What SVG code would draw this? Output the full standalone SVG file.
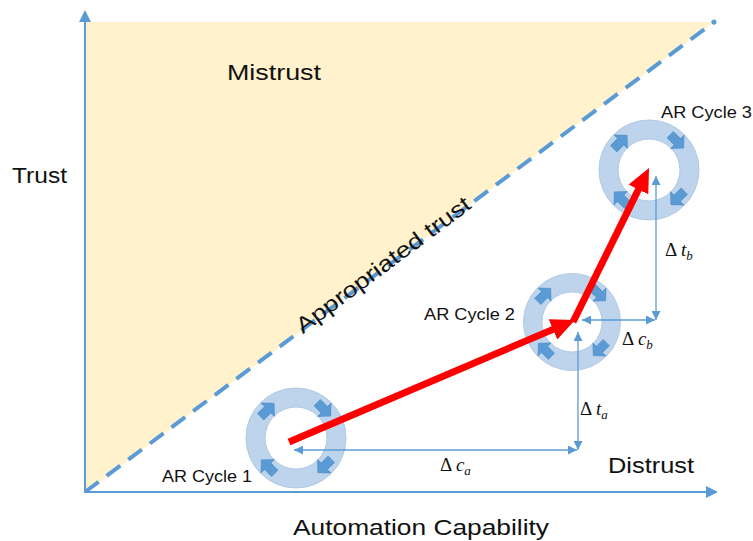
<svg xmlns="http://www.w3.org/2000/svg" width="753" height="541" viewBox="0 0 753 541">
  <defs>
    <style>
      .lbl { font-family: "Liberation Sans", Arial, sans-serif; fill: #111; }
      .big { font-size: 22px; }
      .cyc { font-size: 16px; }
      .math { font-family: "Liberation Serif", "DejaVu Serif", serif; font-size: 19px; fill: #111; }
      .it { font-style: italic; }
      .axis { stroke: #5b9bd5; stroke-width: 2; fill: none; }
      .dim { stroke: #5b9bd5; stroke-width: 1.3; fill: none; marker-start: url(#tip); marker-end: url(#tip); }
      .red { stroke: #ff0000; stroke-width: 7; fill: none; marker-end: url(#redHead); }
      .ring { fill: #b7d0ea; stroke: #a6c4e4; stroke-width: 1; fill-rule: evenodd; opacity: 0.9; }
      .turn { fill: #5b9bd5; stroke: #4a86bf; stroke-width: 0.6; }
    </style>
    <marker id="axisHead" markerUnits="userSpaceOnUse" markerWidth="12" markerHeight="12" refX="2" refY="6" orient="auto">
      <path d="M0,0 L12,6 L0,12 Z" fill="#5b9bd5"/>
    </marker>
    <marker id="tip" markerUnits="userSpaceOnUse" markerWidth="9" markerHeight="9" refX="9" refY="4.5" orient="auto-start-reverse">
      <path d="M0,0 L9,4.5 L0,9 Z" fill="#5b9bd5"/>
    </marker>
    <marker id="redHead" markerUnits="userSpaceOnUse" markerWidth="24" markerHeight="22" refX="2" refY="11" orient="auto">
      <path d="M0,0 L24,11 L0,22 Z" fill="#ff0000"/>
    </marker>
    <!-- small block arrow, pointing along +x, centred on the origin -->
    <path id="turnArrow" d="M-10,-4.5 L0,-4.5 L0,-9.5 L9,0 L0,9.5 L0,4.5 L-10,4.5 Z"/>
    <!-- ring with four clockwise arrows, centred on the origin -->
    <g id="cycleRing">
      <path class="ring" d="M50,0 A50,50 0 1,1 -50,0 A50,50 0 1,1 50,0 Z M31,0 A31,31 0 1,0 -31,0 A31,31 0 1,0 31,0 Z"/>
      <use href="#turnArrow" class="turn" transform="rotate(-135) translate(40,0) rotate(90)"/>
      <use href="#turnArrow" class="turn" transform="rotate(-45) translate(40,0) rotate(90)"/>
      <use href="#turnArrow" class="turn" transform="rotate(45) translate(40,0) rotate(90)"/>
      <use href="#turnArrow" class="turn" transform="rotate(135) translate(40,0) rotate(90)"/>
    </g>
  </defs>

  <rect width="753" height="541" fill="#ffffff"/>

  <!-- mistrust region above the appropriate-trust line -->
  <polygon id="mistrust-region" points="86,22 714,22 86,492" fill="#fff2cc"/>

  <!-- axes -->
  <g id="axes">
    <line class="axis" x1="85" y1="493" x2="85" y2="20" marker-end="url(#axisHead)"/>
    <line class="axis" x1="84" y1="492" x2="708" y2="492" marker-end="url(#axisHead)"/>
  </g>

  <!-- appropriate trust diagonal -->
  <g id="trust-line">
    <line x1="85" y1="492" x2="714" y2="22" stroke="#5b9bd5" stroke-width="4" stroke-dasharray="17 10"/>
    <circle cx="714" cy="22" r="2.5" fill="#5b9bd5"/>
    <text class="lbl" font-size="22" text-anchor="middle" transform="translate(384,266) rotate(-36.77)" y="6" textLength="212" lengthAdjust="spacingAndGlyphs">Appropriated trust</text>
  </g>

  <!-- region and axis labels -->
  <g id="labels">
    <text class="lbl big" x="227" y="80" textLength="94" lengthAdjust="spacingAndGlyphs">Mistrust</text>
    <text class="lbl big" x="12" y="183" textLength="55" lengthAdjust="spacingAndGlyphs">Trust</text>
    <text class="lbl big" x="608" y="473" textLength="86" lengthAdjust="spacingAndGlyphs">Distrust</text>
    <text class="lbl big" x="293" y="535" textLength="256" lengthAdjust="spacingAndGlyphs">Automation Capability</text>
  </g>

  <!-- AR cycles -->
  <g id="cycle1">
    <use href="#cycleRing" transform="translate(296,438)"/>
    <text class="lbl cyc" x="162" y="482" textLength="90" lengthAdjust="spacingAndGlyphs">AR Cycle 1</text>
  </g>
  <g id="cycle2">
    <use href="#cycleRing" transform="translate(572,322) scale(0.97)"/>
    <text class="lbl cyc" x="424" y="320" textLength="91" lengthAdjust="spacingAndGlyphs">AR Cycle 2</text>
  </g>
  <g id="cycle3">
    <use href="#cycleRing" transform="translate(649,170)"/>
    <text class="lbl cyc" x="661" y="118" textLength="91" lengthAdjust="spacingAndGlyphs">AR Cycle 3</text>
  </g>

  <!-- connectors: progression arrows and capability / trust increments -->
  <g id="connectors">
    <line class="dim" x1="294" y1="450" x2="577" y2="450"/>
    <line class="dim" x1="578" y1="332" x2="578" y2="450"/>
    <line class="dim" x1="582" y1="320" x2="655" y2="320"/>
    <line class="dim" x1="656" y1="176" x2="656" y2="320"/>
    <line class="red" x1="289" y1="442" x2="554.8" y2="328.6"/>
    <line class="red" x1="573" y1="322" x2="639.3" y2="187.7"/>
  </g>

  <!-- increment labels -->
  <g id="deltas">
    <text class="math" x="580" y="415">Δ <tspan class="it">t</tspan><tspan class="it" font-size="13" dy="4">a</tspan></text>
    <text class="math" x="440" y="471">Δ <tspan class="it">c</tspan><tspan class="it" font-size="13" dy="4">a</tspan></text>
    <text class="math" x="622" y="345">Δ <tspan class="it">c</tspan><tspan class="it" font-size="13" dy="4">b</tspan></text>
    <text class="math" x="665" y="256">Δ <tspan class="it">t</tspan><tspan class="it" font-size="13" dy="4">b</tspan></text>
  </g>
</svg>
